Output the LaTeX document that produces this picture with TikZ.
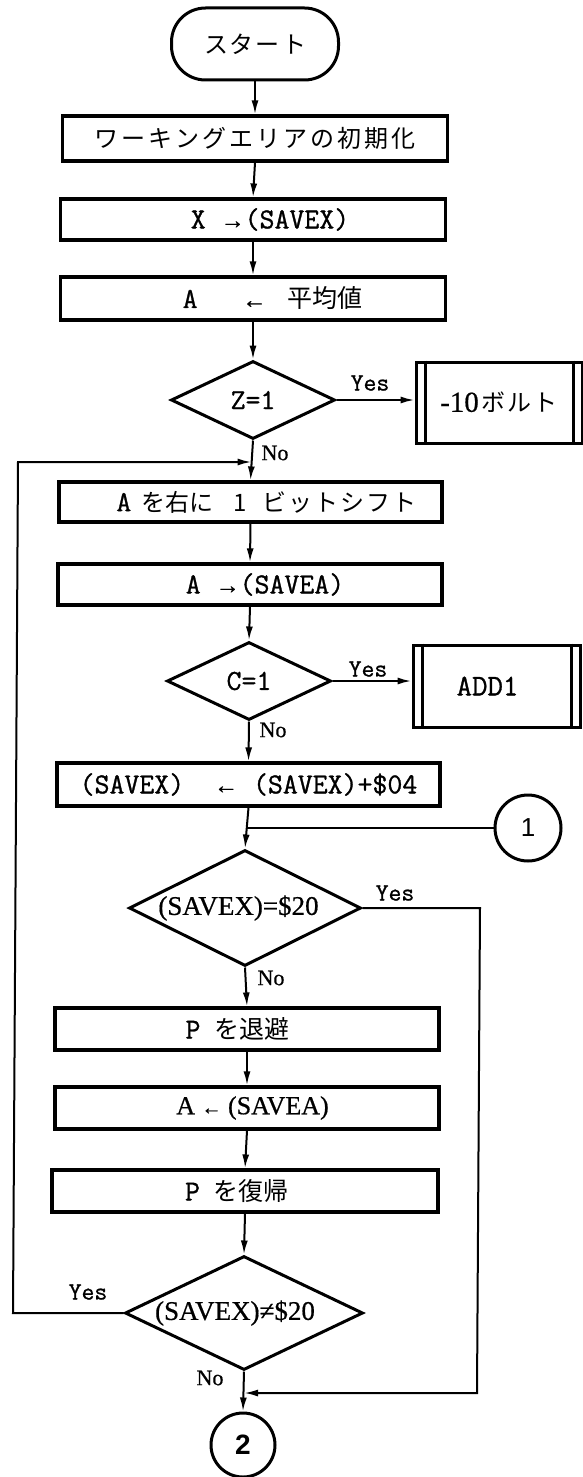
\documentclass[tikz,border=0pt]{standalone}
\usepackage{fontspec}
\setmainfont{Liberation Serif}[FakeBold=0.6]
\newfontfamily\cjk{Noto Sans CJK JP}
\newfontfamily\mono{Latin Modern Mono}[FakeBold=1.0]
\newfontfamily\sansf{Liberation Sans}
\usetikzlibrary{shapes.geometric,arrows.meta}
\newcommand\fs[1]{\fontsize{#1}{#1}\selectfont}
\newcommand\jpn[1]{{\cjk\fs{24}#1}}
\newcommand\tw[1]{{\mono\fs{29}#1}}
\newcommand\arr[1]{{\rmfamily\fs{24}#1}}
\newcommand\jsp{\kern3pt}
\newcommand\jss{\kern2pt}
\begin{document}
\begin{tikzpicture}[x=1pt,y=-1pt,
  box/.style={draw, line width=3.2pt, rectangle, minimum width=385pt, minimum height=42pt, inner sep=0pt, font=\fs{26}},
  term/.style={draw, line width=3pt, rectangle, rounded corners=34pt, minimum width=167pt, minimum height=72pt, inner sep=0pt},
  dec/.style={draw, line width=3pt, diamond, inner sep=0pt, font=\fs{27}},
  sub/.style={draw, line width=3pt, rectangle, minimum width=166pt, minimum height=81pt, inner sep=0pt, font=\fs{29}},
  bar/.style={line width=3pt},
  conn/.style={line width=2pt, -{Latex[length=14pt,width=7pt]}},
  plain/.style={line width=2pt},
  yes/.style={font=\fs{25}\mono, inner sep=0pt},
  no/.style={font=\fs{22}, inner sep=0pt},
  con/.style={draw, circle, line width=3pt, inner sep=0pt, font=\fs{26}\sansf},
]
\fill[white] (0,0) rectangle (583,1477);
\useasboundingbox (0,0) rectangle (583,1477);

% main column
\node[term] (start) at (255,44) {\jpn{ス\jss タ\jss ー\jss ト}};
\node[box, minimum height=45pt] (b1) at (255,138.5) {\jpn{ワ\jsp ー\jsp キ\jsp ン\jsp グ\jsp エ\jsp リ\jsp ア\jsp の\jsp 初\jsp 期\jsp 化}};
\node[box, minimum height=41pt] (b2) at (253,219.5) {\hspace*{34pt}\tw{X \arr{→}(SAVEX)}};
\node[box, minimum height=43pt] (b3) at (253,298.5) {\hspace*{39pt}\tw{A~~~\arr{←}~}\hspace{6pt}{\cjk\fs{25}平均値}};
\node[dec, minimum width=164pt, minimum height=78pt] (d1) at (253,400) {\makebox[0pt]{\tw{Z=1}}};
\node[sub] (volt) at (499,402.5) {-10\hspace{3pt}\jpn{ボ\jss ル\jss ト}};
\node[box, minimum width=383pt, minimum height=40pt] (b4) at (250.5,502) {\hspace*{32pt}\tw{A}\hspace{10pt}\jpn{を右に}\hspace{20pt}\jpn{1}\hspace{16pt}\jpn{ビ\jss ッ\jss ト\jss シ\jss フ\jss ト}};
\node[box, minimum width=384pt, minimum height=41pt] (b5) at (250,584.5) {\hspace*{30pt}\tw{A \arr{→}(SAVEA)}};
\node[dec, minimum width=164pt, minimum height=78pt] (d2) at (249,681) {\makebox[0pt]{\tw{C=1}}};
\node[sub, minimum width=167pt, minimum height=82pt] (add) at (496.5,686) {\tw{\fs{30}ADD1}\hspace*{18pt}};
\node[box, minimum width=383pt, minimum height=43pt] (b6) at (248.5,784.5) {\tw{(SAVEX)~~\arr{←}~(SAVEX)+\$04}};
\coordinate (j1) at (247,828);
\node[con, minimum size=66pt] (c1) at (528,828) {1};
\node[dec, minimum width=232pt, minimum height=116pt] (d3) at (245,908) {\makebox[0pt]{(SAVEX)=\$20\hspace*{13pt}}};
\node[box, minimum width=384pt, minimum height=42pt] (b7) at (247,1029) {\tw{P}\hspace{14pt}{\cjk\fs{25}を退避}\hspace*{19pt}};
\node[box, minimum width=384pt, minimum height=42pt] (b8) at (247,1108) {\hspace*{11pt}A~{\fs{20}←}~(SAVEA)};
\node[box, minimum width=386pt, minimum height=42pt] (b9) at (245,1191) {\tw{P}\hspace{14pt}{\cjk\fs{25}を復帰}\hspace*{16pt}};
\node[dec, minimum width=238pt, minimum height=114pt] (d4) at (244,1313) {\makebox[0pt]{(SAVEX)≠\$20\hspace*{18pt}}};
\node[con, minimum size=64pt, font=\fs{28}\sansf\bfseries] (c2) at (243,1445) {2};

% inner bars of predefined processes
\draw[bar] ([xshift=11pt]volt.north west) -- ([xshift=11pt]volt.south west);
\draw[bar] ([xshift=-10pt]volt.north east) -- ([xshift=-10pt]volt.south east);
\draw[bar] ([xshift=11pt]add.north west) -- ([xshift=11pt]add.south west);
\draw[bar] ([xshift=-10pt]add.north east) -- ([xshift=-10pt]add.south east);

% loop coordinates
\coordinate (j0) at (251.5,462);
\coordinate (l1) at (13,1313);
\coordinate (l2) at (18,462);
\coordinate (r1) at (480,908);
\coordinate (r2) at (477,1393);
\coordinate (j2) at (244,1393);

% connectors
\draw[conn] (start.south) -- (b1.north);
\draw[conn] (b1.south) -- (b2.north);
\draw[conn] (b2.south) -- (b3.north);
\draw[conn] (b3.south) -- (d1.north);
\draw[conn] (d1.east) -- (d1.east -| volt.west);
\draw[conn] (d1.south) -- (b4.north);
\draw[conn] (b4.south) -- (b5.north);
\draw[conn] (b5.south) -- (d2.north);
\draw[conn] (d2.east) -- (d2.east -| add.west);
\draw[conn] (d2.south) -- (b6.north);
\draw[conn] (b6.south) -- (d3.north);
\draw[plain] (j1) -- (c1.west);
\draw[conn] (d3.south) -- (b7.north);
\draw[conn] (b7.south) -- (b8.north);
\draw[conn] (b8.south) -- (b9.north);
\draw[conn] (b9.south) -- (d4.north);
\draw[conn] (d4.south) -- (c2.north);
\draw[conn] (d3.east) -- (r1) -- (r2) -- (j2);
\draw[conn] (d4.west) -- (l1) -- (l2) -- (j0);

% labels
\node[yes] (y1) at (370,383) {Yes};
\node[yes] (y2) at (368,669) {Yes};
\node[yes] (y3) at (395,893) {Yes};
\node[yes] (y4) at (88,1292) {Yes};
\node[no] (n1) at (275,453) {No};
\node[no] (n2) at (273,730) {No};
\node[no] (n3) at (271,978) {No};
\node[no] (n4) at (210,1378) {No};
\end{tikzpicture}
\end{document}
